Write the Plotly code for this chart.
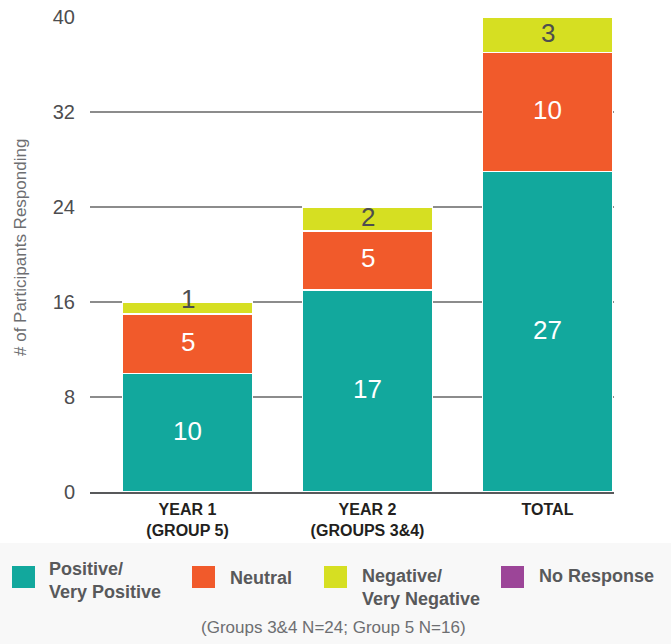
import plotly.graph_objects as go

# Survey responses by cohort
categories = ["YEAR 1<br>(GROUP 5)", "YEAR 2<br>(GROUPS 3&4)", "TOTAL"]
series_names = ["Positive/<br>Very Positive", "Neutral", "Negative/<br>Very Negative", "No Response"]
positive = [10, 17, 27]
neutral = [5, 5, 10]
negative = [1, 2, 3]
no_response = [0, 0, 0]
y_ticks = [0, 8, 16, 24, 32, 40]
footnote = "(Groups 3&4 N=24; Group 5 N=16)"
y_title = "# of Participants Responding"

series_values = [positive, neutral, negative, no_response]
colors = ["#12a89d", "#f15a2b", "#d6df22", "#9c4598"]
label_colors = ["#ffffff", "#ffffff", "#4d4d4f", "#ffffff"]

W, H = 671, 644
L, R, T, B = 90, 57, 17, 152
PW, PH = W - L - R, H - T - B
FONT = "Liberation Sans"


def px_x(px):
    return (px - L) / PW


def px_y(py):
    return (H - B - py) / PH


fig = go.Figure()
for name, vals, col in zip(series_names, series_values, colors):
    fig.add_trace(go.Bar(
        x=categories, y=vals, name=name,
        marker=dict(color=col, line=dict(color="white", width=1.5)),
        width=0.72, showlegend=False,
    ))

# Segment value labels (thin segments get their label lifted to the top edge)
annotations = []
bases = [0] * len(categories)
for vals, lc in zip(series_values, label_colors):
    for i, v in enumerate(vals):
        if v > 0:
            thin = v < 2
            ypos = bases[i] + v if thin else bases[i] + v / 2
            annotations.append(dict(
                x=categories[i], y=ypos, xref="x", yref="y", text=str(v),
                showarrow=False, yanchor="middle", yshift=3 if thin else 2,
                font=dict(family=FONT, size=26, color=lc),
            ))
        bases[i] += v

# Y-axis title
annotations.append(dict(
    x=px_x(20), y=px_y(248), xref="paper", yref="paper", text=y_title,
    textangle=-90, showarrow=False, xanchor="center", yanchor="middle",
    font=dict(family=FONT, size=17, color="#6d6e71"),
))

# Legend panel
shapes = [dict(
    type="rect", xref="paper", yref="paper", layer="below",
    x0=px_x(0), x1=px_x(W), y0=px_y(H), y1=px_y(543),
    fillcolor="#f8f8f8", line=dict(width=0),
)]
swatch_x = [12, 192, 324, 501]
text_x = [47, 228, 360, 537]
text_y = [580, 578, 587, 576]
for name, col, sx, tx, ty in zip(series_names, colors, swatch_x, text_x, text_y):
    shapes.append(dict(
        type="rect", xref="paper", yref="paper",
        x0=px_x(sx), x1=px_x(sx + 23), y0=px_y(588), y1=px_y(566),
        fillcolor=col, line=dict(width=0),
    ))
    annotations.append(dict(
        x=px_x(tx), y=px_y(ty), xref="paper", yref="paper", text=name,
        showarrow=False, xanchor="left", yanchor="middle", align="left",
        font=dict(family=FONT, size=18, color="#58595b", weight="bold"),
    ))

annotations.append(dict(
    x=px_x(333), y=px_y(627), xref="paper", yref="paper", text=footnote,
    showarrow=False, xanchor="center", yanchor="middle",
    font=dict(family=FONT, size=17, color="#6d6e71"),
))

fig.update_layout(
    width=W, height=H,
    margin=dict(l=L, r=R, t=T, b=B, pad=0, autoexpand=False),
    paper_bgcolor="white", plot_bgcolor="white",
    barmode="stack",
    annotations=annotations, shapes=shapes,
    xaxis=dict(
        range=[-0.5417, 2.3694], showgrid=False, zeroline=False,
        showline=True, linecolor="#58595b", linewidth=1.5,
        ticks="", ticklabelstandoff=2, automargin=False,
        tickfont=dict(family=FONT, size=16, color="#231f20", weight="bold"),
    ),
    yaxis=dict(
        range=[0, 40], tickvals=y_ticks, showgrid=True,
        gridcolor="#8c8c8c", gridwidth=1.5, zeroline=False,
        ticks="", ticklabelstandoff=14, automargin=False,
        tickfont=dict(family=FONT, size=20, color="#4d4d4f"),
    ),
)

fig.write_html("out.html")
